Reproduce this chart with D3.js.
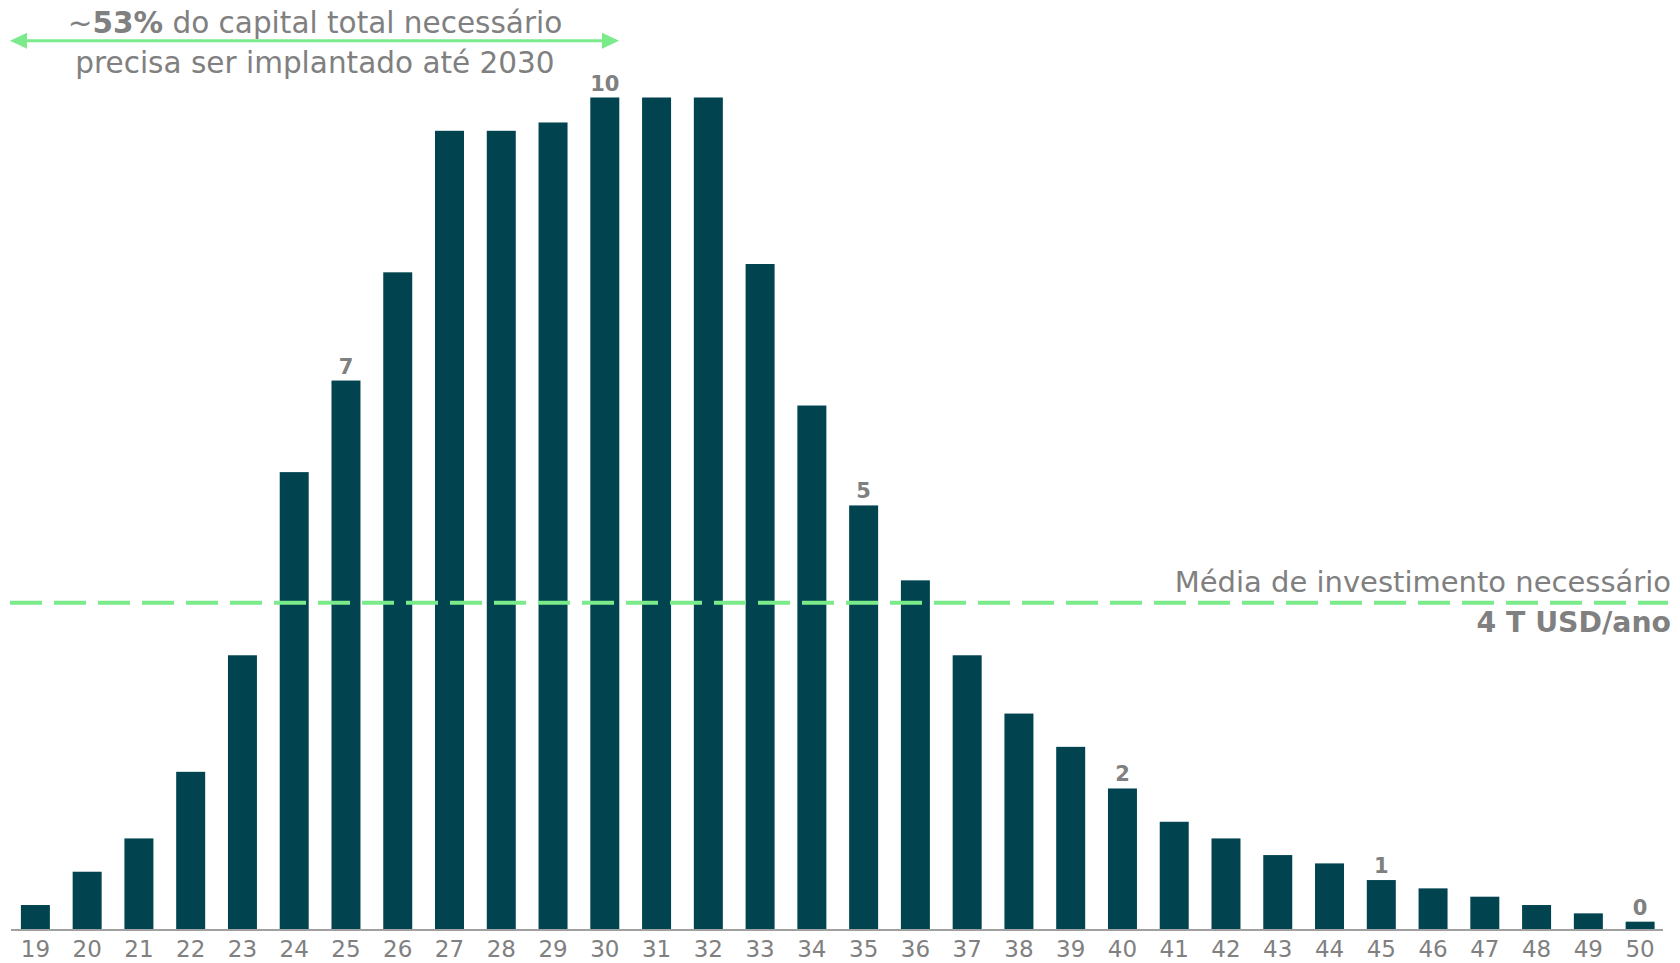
<!DOCTYPE html>
<html>
<head>
<meta charset="utf-8">
<script src="https://cdn.jsdelivr.net/npm/d3@7"></script>
<style>
  html, body { margin: 0; padding: 0; background: #fff; }
  svg { display: block; }
</style>
</head>
<body>
<script>
// Years (20xx) on the x axis
const years = ["19", "20", "21", "22", "23", "24", "25", "26", "27", "28", "29", "30", "31", "32",
  "33", "34", "35", "36", "37", "38", "39", "40", "41", "42", "43", "44", "45", "46", "47", "48", "49", "50"];

// Investment needed per year (T USD)
const investment = [0.3, 0.7, 1.1, 1.9, 3.3, 5.5, 6.6, 7.9, 9.6, 9.6, 9.7, 10.0, 10.0, 10.0,
  8.0, 6.3, 5.1, 4.2, 3.3, 2.6, 2.2, 1.7, 1.3, 1.1, 0.9, 0.8, 0.6, 0.5, 0.4, 0.3, 0.2, 0.1];

// Bars that carry a value label, and the label shown
const labelledYears = ["25", "30", "35", "40", "45", "50"];
const labelTexts = ["7", "10", "5", "2", "1", "0"];

// Average annual investment (dashed line)
const avgValue = 3.93;

const width = 1680, height = 963;
const baseline = 930;
const barColor = "#01444f";
const green = "#7aea8b";
const grey = "#808080";

const data = years.map((y, i) => ({ year: y, value: investment[i] }));

const svg = d3.select("body").append("svg")
  .attr("width", width)
  .attr("height", height)
  .attr("viewBox", [0, 0, width, height]);

// Scales
const x = d3.scaleBand()
  .domain(years)
  .range([9.5, 1666])
  .paddingInner(0.44)
  .paddingOuter(0.22);

const y = d3.scaleLinear()
  .domain([0, 10])
  .range([baseline, 97.5]);

// Bars
svg.append("g")
  .selectAll("rect")
  .data(data)
  .join("rect")
  .attr("x", d => x(d.year))
  .attr("y", d => y(d.value))
  .attr("width", x.bandwidth())
  .attr("height", d => y(0) - y(d.value))
  .attr("fill", barColor);

// X axis
const xAxis = svg.append("g")
  .attr("transform", `translate(0,${baseline})`)
  .call(d3.axisBottom(x).tickSize(0).tickPadding(11));

xAxis.select(".domain")
  .attr("d", "M11,0H1663")
  .attr("stroke", "#a0a0a0")
  .attr("stroke-width", 2);

xAxis.selectAll("text")
  .attr("fill", grey)
  .style("font-family", "DejaVu Sans")
  .style("font-size", "23px");

// Value labels
svg.append("g")
  .selectAll("text")
  .data(labelledYears)
  .join("text")
  .attr("x", d => x(d) + x.bandwidth() / 2)
  .attr("y", d => y(investment[years.indexOf(d)]) - 7)
  .attr("text-anchor", "middle")
  .attr("fill", grey)
  .style("font-family", "DejaVu Sans")
  .style("font-weight", "bold")
  .style("font-size", "21px")
  .text((d, i) => labelTexts[i]);

// Average line
svg.append("line")
  .attr("x1", 10)
  .attr("x2", 1668)
  .attr("y1", y(avgValue))
  .attr("y2", y(avgValue))
  .attr("stroke", green)
  .attr("stroke-width", 4)
  .attr("stroke-dasharray", "32 12");

svg.append("text")
  .attr("x", 1671)
  .attr("y", y(avgValue) - 11)
  .attr("text-anchor", "end")
  .attr("fill", grey)
  .style("font-family", "DejaVu Sans")
  .style("font-size", "29px")
  .text("Média de investimento necessário");

svg.append("text")
  .attr("x", 1671)
  .attr("y", y(avgValue) + 29)
  .attr("text-anchor", "end")
  .attr("fill", grey)
  .style("font-family", "DejaVu Sans")
  .style("font-weight", "bold")
  .style("font-size", "28.3px")
  .text("4 T USD/ano");

// Double arrow for the 2030 annotation
const arrowY = 40.7, arrowL = 10, arrowR = 619, head = 17, halfH = 8;
svg.append("line")
  .attr("x1", arrowL + head - 2)
  .attr("x2", arrowR - head + 2)
  .attr("y1", arrowY)
  .attr("y2", arrowY)
  .attr("stroke", green)
  .attr("stroke-width", 3);

svg.append("path")
  .attr("d", `M${arrowL},${arrowY}L${arrowL + head},${arrowY - halfH}L${arrowL + head},${arrowY + halfH}Z`)
  .attr("fill", green);

svg.append("path")
  .attr("d", `M${arrowR},${arrowY}L${arrowR - head},${arrowY - halfH}L${arrowR - head},${arrowY + halfH}Z`)
  .attr("fill", green);

const note = svg.append("text")
  .attr("x", 315)
  .attr("text-anchor", "middle")
  .attr("fill", grey)
  .style("font-family", "DejaVu Sans")
  .style("font-size", "29.5px");

const line1 = note.append("tspan").attr("x", 315).attr("y", 33);
line1.append("tspan").text("~");
line1.append("tspan").style("font-weight", "bold").text("53%");
line1.append("tspan").text(" do capital total necessário");

note.append("tspan")
  .attr("x", 315)
  .attr("y", 73)
  .text("precisa ser implantado até 2030");
</script>
</body>
</html>
